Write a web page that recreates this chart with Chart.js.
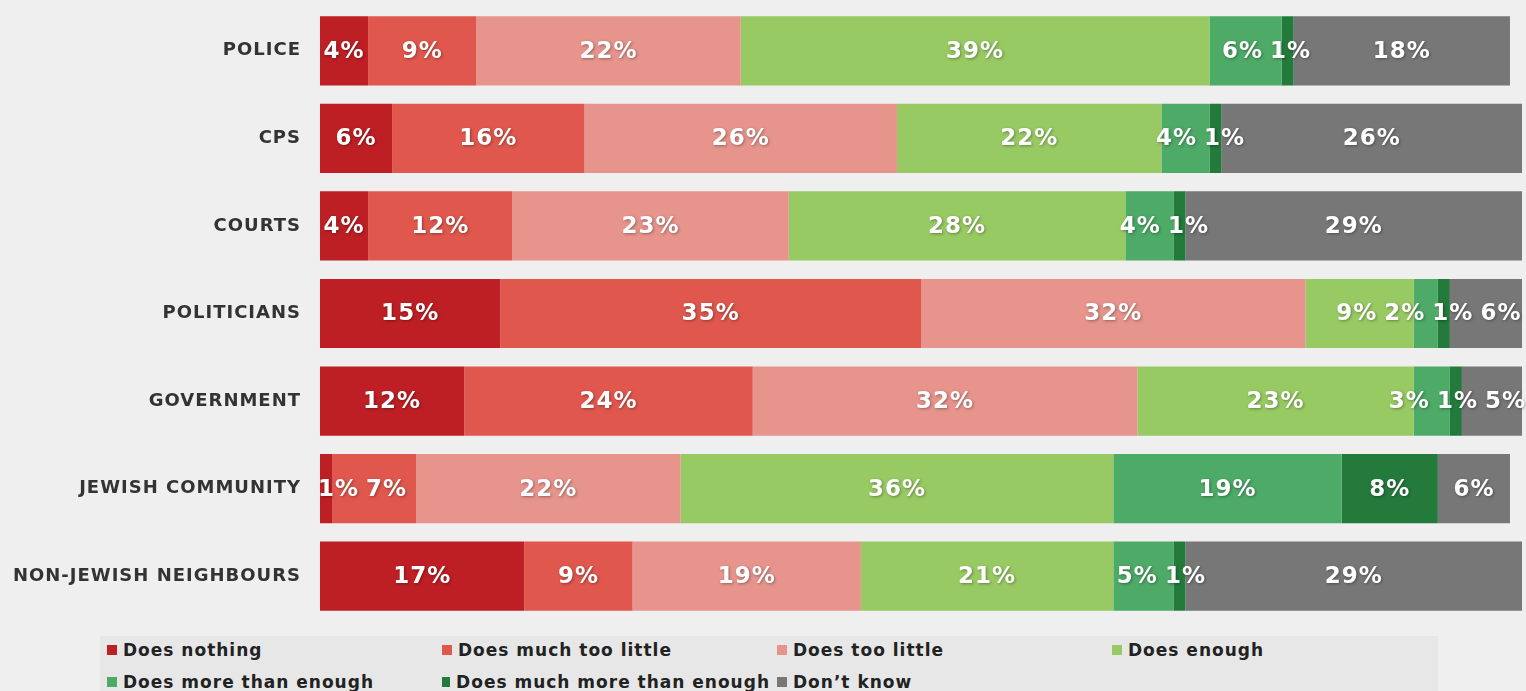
<!DOCTYPE html>
<html lang="en">
<head>
    <meta charset="UTF-8">
    <script src="https://cdn.jsdelivr.net/npm/chart.js"></script>
    <title>Who does enough</title>
    <style>
        body { margin: 0; background: #efefef; width: 1526px; height: 691px; overflow: hidden; position: relative; }
        #wrap { position: absolute; left: 0; top: 0; width: 1526px; height: 627px; }
        #legend {
            position: absolute; left: 100px; top: 636px; width: 1338px; height: 60px;
            background: #e7e7e7;
            display: grid; grid-template-columns: repeat(4, 335px); grid-auto-rows: 28px; row-gap: 4px;
            font: bold 17px "DejaVu Sans", sans-serif; color: #222; letter-spacing: 1px;
        }
        #legend div { display: flex; align-items: center; padding-left: 7px; white-space: nowrap; }
        #legend span { display: inline-block; width: 10px; height: 10px; margin-right: 6px; }
    </style>
</head>
<body>
    <div id="wrap">
        <canvas id="barChart"></canvas>
    </div>
    <div id="legend"></div>

    <script>
    const categories = ['POLICE', 'CPS', 'COURTS', 'POLITICIANS', 'GOVERNMENT', 'JEWISH COMMUNITY', 'NON-JEWISH NEIGHBOURS'];

    const doesNothing        = [4, 6, 4, 15, 12, 1, 17];
    const muchTooLittle      = [9, 16, 12, 35, 24, 7, 9];
    const tooLittle          = [22, 26, 23, 32, 32, 22, 19];
    const doesEnough         = [39, 22, 28, 9, 23, 36, 21];
    const moreThanEnough     = [6, 4, 4, 2, 3, 19, 5];
    const muchMoreThanEnough = [1, 1, 1, 1, 1, 8, 1];
    const dontKnow           = [18, 26, 29, 6, 5, 6, 29];

    const seriesNames = ['Does nothing', 'Does much too little', 'Does too little', 'Does enough',
                         'Does more than enough', 'Does much more than enough', 'Don\u2019t know'];
    const seriesData = [doesNothing, muchTooLittle, tooLittle, doesEnough, moreThanEnough, muchMoreThanEnough, dontKnow];
    const seriesColors = ['#be1f24', '#e0574d', '#e6948c', '#98ca63', '#4daa67', '#237a3b', '#777777'];

    // legend built as html so the columns line up like the original
    const legendEl = document.getElementById('legend');
    seriesNames.forEach((name, i) => {
        const item = document.createElement('div');
        item.innerHTML = '<span style="background:' + seriesColors[i] + '"></span>' + name;
        legendEl.appendChild(item);
    });

    // wider letter spacing for the axis labels
    const spacing = {
        id: 'spacing',
        beforeDraw(chart) { chart.ctx.letterSpacing = '1px'; },
        afterDraw(chart) { chart.ctx.letterSpacing = '0px'; }
    };

    // percent labels inside the bars, pushed apart where small segments crowd
    const valueLabels = {
        id: 'valueLabels',
        afterDatasetsDraw(chart) {
            const ctx = chart.ctx;
            const area = chart.chartArea;
            ctx.save();
            ctx.font = 'bold 23px "DejaVu Sans", sans-serif';
            ctx.letterSpacing = '1px';
            ctx.textAlign = 'center';
            ctx.textBaseline = 'middle';
            ctx.fillStyle = '#ffffff';
            ctx.shadowColor = 'rgba(0,0,0,0.35)';
            ctx.shadowBlur = 3;
            ctx.shadowOffsetX = 1;
            ctx.shadowOffsetY = 1;

            categories.forEach((cat, j) => {
                const items = [];
                let y = 0;
                chart.data.datasets.forEach((ds, i) => {
                    const bar = chart.getDatasetMeta(i).data[j];
                    const end = Math.min(bar.x, area.right);
                    const text = ds.data[j] + '%';
                    items.push({ text: text, w: ctx.measureText(text).width, cx: (bar.base + end) / 2 });
                    y = bar.y;
                });
                const gap = 7;
                for (let it = 0; it < 80; it++) {
                    for (let k = 0; k < items.length - 1; k++) {
                        const a = items[k], b = items[k + 1];
                        const overlap = (a.cx + a.w / 2 + gap) - (b.cx - b.w / 2);
                        if (overlap > 0) {
                            a.cx -= overlap / 2;
                            b.cx += overlap / 2;
                        }
                    }
                    const first = items[0];
                    if (first.cx - first.w / 2 < area.left - 2) first.cx = area.left - 2 + first.w / 2;
                    const last = items[items.length - 1];
                    if (last.cx + last.w / 2 > area.right + 4) last.cx = area.right + 4 - last.w / 2;
                }
                items.forEach((item) => ctx.fillText(item.text, item.cx, y + 1));
            });
            ctx.restore();
        }
    };

    function createChart() {
        const ctx = document.getElementById('barChart');

        new Chart(ctx, {
            type: 'bar',
            data: {
                labels: categories,
                datasets: seriesNames.map((name, i) => ({
                    label: name,
                    data: seriesData[i],
                    backgroundColor: seriesColors[i],
                    borderWidth: 0,
                    barPercentage: 0.79,
                    categoryPercentage: 1
                }))
            },
            options: {
                indexAxis: 'y',
                responsive: true,
                maintainAspectRatio: false,
                animation: false,
                layout: {
                    padding: { top: 7, bottom: 7, left: 0, right: 4 }
                },
                plugins: {
                    legend: { display: false },
                    tooltip: { enabled: false }
                },
                scales: {
                    x: {
                        stacked: true,
                        display: false,
                        min: 0,
                        max: 100
                    },
                    y: {
                        stacked: true,
                        grid: { display: false, drawTicks: false },
                        border: { display: false },
                        ticks: {
                            padding: 19,
                            color: '#333333',
                            font: { family: '"DejaVu Sans", sans-serif', size: 18, weight: 'bold' }
                        },
                        afterFit(scale) {
                            scale.width = 320;
                            scale.paddingTop = 0;
                            scale.paddingBottom = 0;
                        }
                    }
                }
            },
            plugins: [spacing, valueLabels]
        });
    }

    createChart();
    </script>
</body>
</html>
